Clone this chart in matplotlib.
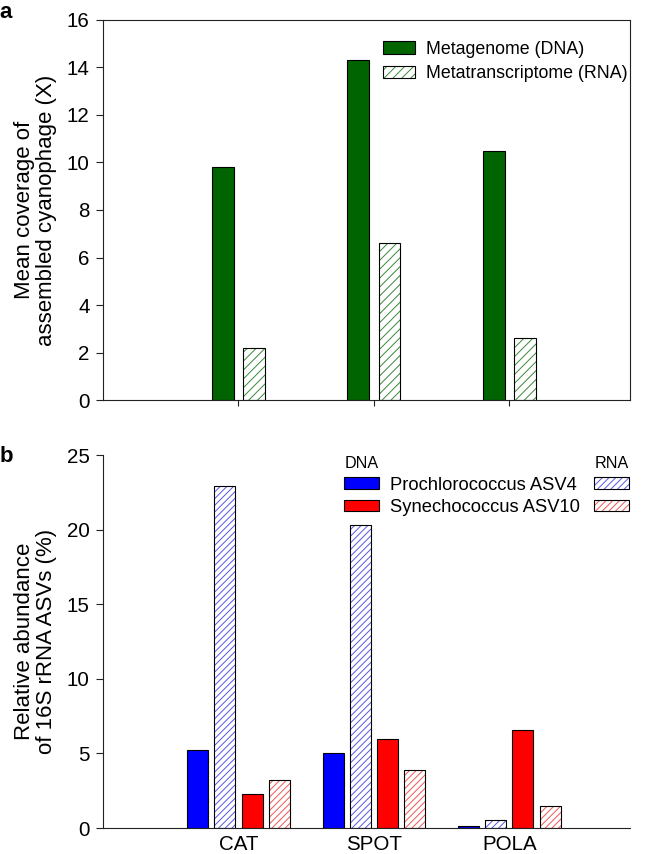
import numpy as np
import matplotlib
matplotlib.use("Agg")
import matplotlib.pyplot as plt
from matplotlib.patches import Patch
from matplotlib.legend_handler import HandlerTuple

plt.rcParams["font.family"] = ["Liberation Sans", "DejaVu Sans"]
plt.rcParams["hatch.linewidth"] = 0.9

# --- data ---
sites = ["CAT", "SPOT", "POLA"]
coverage_dna = [9.8, 14.3, 10.5]
coverage_rna = [2.2, 6.6, 2.6]

pro_dna = [5.2, 5.0, 0.15]
pro_rna = [22.9, 20.3, 0.55]
syn_dna = [2.3, 6.0, 6.6]
syn_rna = [3.2, 3.9, 1.5]

DPI = 80
fig = plt.figure(figsize=(645 / DPI, 854 / DPI), dpi=DPI)

GREEN = "#006400"
GREEN_H = "#3c8c3c"
BLUE = "#0000ff"
BLUE_H = "#5a5ae6"
RED = "#ff0000"
RED_H = "#f05a5a"
SPINE = "#222222"
TICK_FS = 18.5
LABEL_FS = 20

x = np.arange(len(sites))


def hatched_bar(ax, xpos, vals, width, hcolor, hatch):
    ax.bar(xpos, vals, width, color="white", edgecolor=hcolor, hatch=hatch, linewidth=0)
    ax.bar(xpos, vals, width, fill=False, edgecolor="black", linewidth=1.0)


def hatch_handle(hcolor, hatch):
    return (Patch(facecolor="white", edgecolor=hcolor, hatch=hatch, linewidth=0),
            Patch(fill=False, edgecolor="black", linewidth=1.0))


# --- panel a ---
ax1 = fig.add_axes([0.1597, 0.5316, 0.817, 0.445])
w1 = 0.162
ax1.bar(x - 0.115, coverage_dna, w1, color=GREEN, edgecolor="black", linewidth=1.0)
hatched_bar(ax1, x + 0.115, coverage_rna, w1, GREEN_H, "///")
ax1.set_xlim(-1.0, 2.89)
ax1.set_ylim(0, 16)
ax1.set_yticks(range(0, 17, 2))
ax1.set_xticks(x)
ax1.set_xticklabels([])
ax1.tick_params(axis="y", labelsize=TICK_FS, length=6, width=1, color=SPINE, pad=6)
ax1.tick_params(axis="x", length=5, width=1, color=SPINE)
for s in ax1.spines.values():
    s.set_color(SPINE)
    s.set_linewidth(1)
ax1.set_ylabel("Mean coverage of\nassembled cyanophage (X)", fontsize=LABEL_FS, linespacing=1.05)
ax1.yaxis.set_label_coords(-0.088, 0.5)

ax1.legend([Patch(facecolor=GREEN, edgecolor="black", linewidth=1.0), hatch_handle(GREEN_H, "///")],
           ["Metagenome (DNA)", "Metatranscriptome (RNA)"],
           handler_map={tuple: HandlerTuple(ndivide=1)},
           loc="upper left", bbox_to_anchor=(0.531, 0.945), frameon=False,
           fontsize=16, borderpad=0, borderaxespad=0, labelspacing=0.42,
           handlelength=1.8, handleheight=0.7, handletextpad=0.65)

ax1.text(-0.196, 1.019, "a", transform=ax1.transAxes, fontsize=20, fontweight="bold",
         ha="left", va="center")

# --- panel b ---
ax2 = fig.add_axes([0.1597, 0.0304, 0.817, 0.4368])
w2 = 0.155
step = 0.2
ax2.bar(x - 1.5 * step, pro_dna, w2, color=BLUE, edgecolor="black", linewidth=1.0)
hatched_bar(ax2, x - 0.5 * step, pro_rna, w2, BLUE_H, "////")
ax2.bar(x + 0.5 * step, syn_dna, w2, color=RED, edgecolor="black", linewidth=1.0)
hatched_bar(ax2, x + 1.5 * step, syn_rna, w2, RED_H, "////")
ax2.set_xlim(-1.0, 2.89)
ax2.set_ylim(0, 25)
ax2.set_yticks(range(0, 26, 5))
ax2.set_xticks(x)
ax2.set_xticklabels(sites)
ax2.tick_params(axis="y", labelsize=TICK_FS, length=6, width=1, color=SPINE, pad=6)
ax2.tick_params(axis="x", labelsize=TICK_FS, length=0, pad=6)
ax2.spines["top"].set_visible(False)
ax2.spines["right"].set_visible(False)
for s in ("left", "bottom"):
    ax2.spines[s].set_color(SPINE)
    ax2.spines[s].set_linewidth(1)
ax2.set_ylabel("Relative abundance\nof 16S rRNA ASVs (%)", fontsize=LABEL_FS, linespacing=1.05)
ax2.yaxis.set_label_coords(-0.088, 0.5)

leg_kw = dict(frameon=False, fontsize=16.5, title_fontsize=14.5, borderpad=0,
              borderaxespad=0, labelspacing=0.3, handlelength=1.9,
              handleheight=0.6, handletextpad=0.6, alignment="left")
leg_dna = ax2.legend([Patch(facecolor=BLUE, edgecolor="black", linewidth=1.0),
                      Patch(facecolor=RED, edgecolor="black", linewidth=1.0)],
                     ["Prochlorococcus ASV4", "Synechococcus ASV10"],
                     title="DNA", loc="upper left", bbox_to_anchor=(0.458, 0.997), **leg_kw)
ax2.add_artist(leg_dna)
ax2.legend([hatch_handle(BLUE_H, "////"), hatch_handle(RED_H, "////")], ["", ""],
           handler_map={tuple: HandlerTuple(ndivide=1)},
           title="RNA", loc="upper left", bbox_to_anchor=(0.932, 0.997), **leg_kw)

ax2.text(-0.196, 0.997, "b", transform=ax2.transAxes, fontsize=20, fontweight="bold",
         ha="left", va="center")

fig.savefig("out.png", dpi=DPI)
